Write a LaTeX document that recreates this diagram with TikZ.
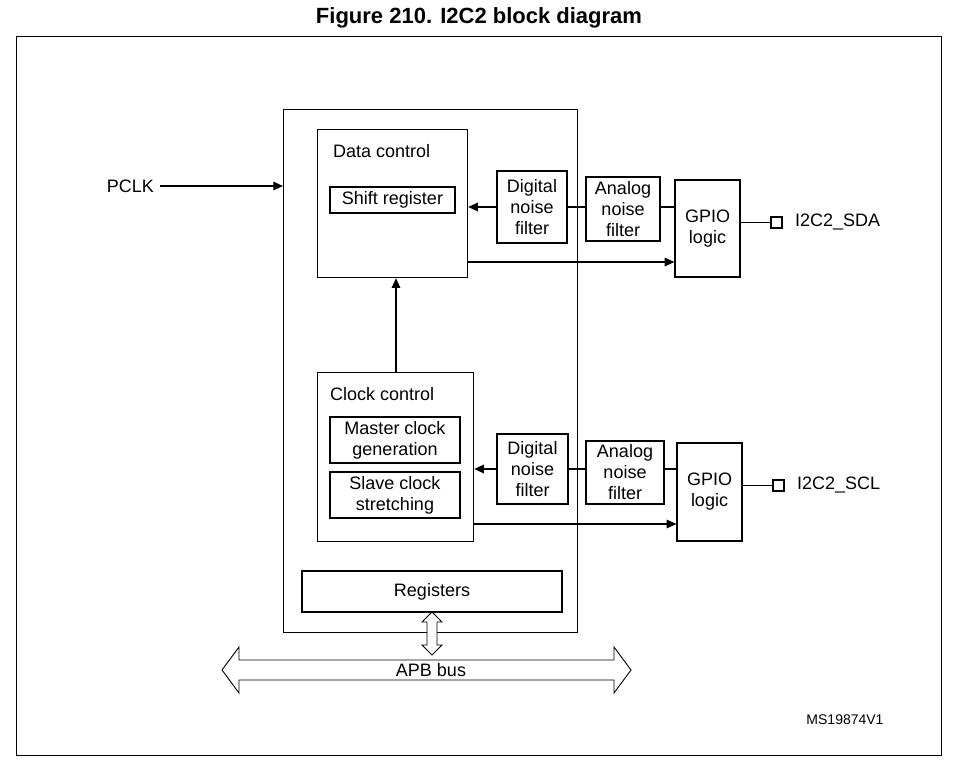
\documentclass[tikz,border=0pt]{standalone}
\usepackage{fontspec}
\setmainfont{Liberation Sans}
\usetikzlibrary{arrows.meta}
\tikzset{
    % arrow style
    >={Triangle[width=3mm, length=3.4mm]},
    % abstract base node style
    base/.style = {draw, line width=1.2pt, rectangle, inner sep=0pt,
        align=center, font=\fontsize{18}{21}\selectfont},
    % special node styles
    frame/.style = {base, anchor=north west},
    block/.style = {base},
    port/.style = {draw, line width=1.2pt, minimum size=11pt, inner sep=0pt},
    label/.style = {font=\fontsize{18}{21}\selectfont, inner sep=0pt},
    wire/.style = {line width=1.2pt}
}
\begin{document}
\begin{tikzpicture}[x=1pt, y=-1pt]
        \useasboundingbox (0,0) rectangle (958,765);
        % frame and title
        \node[font=\bfseries\fontsize{22}{26}\selectfont] (title) at (479,18) {Figure 210. I2C2 block diagram};
        \draw[line width=0.7pt] (16,36) rectangle (941,755);
        % place blocks
        \node[frame, minimum width=294pt, minimum height=523pt] (i2c) at (283,109) {};
        \node[frame, minimum width=150pt, minimum height=148pt] (dataCtrl) at (317,129) {};
        \node[label, anchor=west] (dataLbl) at (333,151) {Data control};
        \node[block, minimum width=125pt, minimum height=26pt] (shiftReg) at (392.5,200) {Shift register};
        \node[frame, minimum width=156pt, minimum height=169pt] (clkCtrl) at (317,372) {};
        \node[label, anchor=west] (clkLbl) at (330,394) {Clock control};
        \node[block, minimum width=130pt, minimum height=46pt] (masterClk) at (395,440) {Master clock\\generation};
        \node[block, minimum width=130pt, minimum height=46pt] (slaveClk) at (395,495) {Slave clock\\stretching};
        \node[block, minimum width=260pt, minimum height=41pt] (regs) at (432,591.5) {Registers};
        % SDA path
        \node[block, minimum width=70pt, minimum height=72pt] (dnfSda) at (532,207) {Digital\\noise\\filter};
        \node[block, minimum width=74pt, minimum height=64pt] (anfSda) at (623,209) {Analog\\noise\\filter};
        \node[block, minimum width=65pt, minimum height=97pt] (gpioSda) at (707.5,228.5) {GPIO\\logic};
        \node[port] (padSda) at (776.5,222.5) {};
        \node[label, anchor=west] (sdaLbl) at (795,222) {I2C2\_SDA};
        % SCL path
        \node[block, minimum width=71pt, minimum height=70pt] (dnfScl) at (532.5,469) {Digital\\noise\\filter};
        \node[block, minimum width=78pt, minimum height=63pt] (anfScl) at (625,472.5) {Analog\\noise\\filter};
        \node[block, minimum width=65pt, minimum height=98pt] (gpioScl) at (709.5,492) {GPIO\\logic};
        \node[port] (padScl) at (778.5,485.5) {};
        \node[label, anchor=west] (sclLbl) at (797,485) {I2C2\_SCL};
        % clock input
        \node[label, anchor=east] (pclk) at (154,186) {PCLK};
        \coordinate (pclkIn) at (283,186);
        \draw[wire, ->] (160,186) -- (pclkIn);
        % straight connectors
        \draw[wire, ->] (dnfSda.west) -- (dataCtrl.east |- dnfSda.west);
        \draw[wire] (anfSda.west |- dnfSda.east) -- (dnfSda.east);
        \draw[wire] (gpioSda.west |- dnfSda.east) -- (anfSda.east |- dnfSda.east);
        \draw[wire] (gpioSda.east |- padSda) -- (padSda);
        \draw[wire, ->] (dataCtrl.east |- 0,262) -- (gpioSda.west |- 0,262);
        \draw[wire, ->] (clkCtrl.north -| 396,0) -- (dataCtrl.south -| 396,0);
        \draw[wire, ->] (dnfScl.west) -- (clkCtrl.east |- dnfScl.west);
        \draw[wire] (anfScl.west |- dnfScl.east) -- (dnfScl.east);
        \draw[wire] (gpioScl.west |- dnfScl.east) -- (anfScl.east |- dnfScl.east);
        \draw[wire] (gpioScl.east |- padScl) -- (padScl);
        \draw[wire, ->] (clkCtrl.east |- 0,524) -- (gpioScl.west |- 0,524);
        % bus arrows
        \node[label] (apb) at (431,670) {APB bus};
        \draw[line width=0.9pt, fill=white] (432,612) -- (442,622) -- (437,622) -- (437,645) -- (442,645)
              -- (432,655) -- (422,645) -- (427,645) -- (427,622) -- (422,622) -- cycle;
        \draw[line width=0.9pt] (222,670) -- (239,647) -- (239,660) -- (614,660) -- (614,647)
              -- (631,670) -- (614,693) -- (614,680) -- (239,680) -- (239,693) -- cycle;
        \node[label, font=\fontsize{14}{16}\selectfont] (ref) at (845,720) {MS19874V1};
\end{tikzpicture}
\end{document}
